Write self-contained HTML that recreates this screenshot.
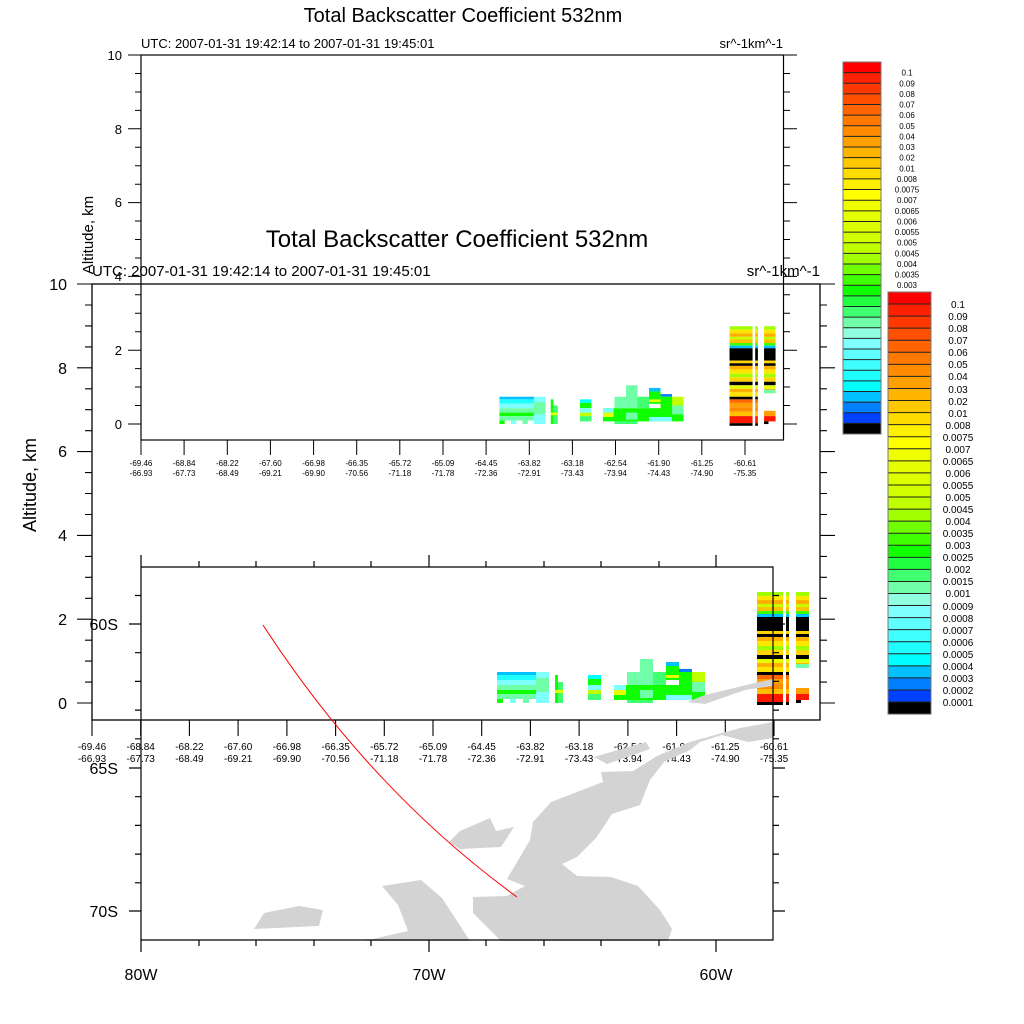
<!DOCTYPE html>
<html><head><meta charset="utf-8"><style>
html,body{margin:0;padding:0;background:#fff;width:1024px;height:1024px;overflow:hidden}
svg{display:block;font-family:"Liberation Sans",Arial,sans-serif}
</style></head><body>
<svg width="1024" height="1024" viewBox="0 0 1024 1024" xmlns="http://www.w3.org/2000/svg">
<defs>
<g id="cb">
<rect x="0" y="0" width="1" height="1" fill="#ff0000"/><rect x="0" y="1" width="1" height="1" fill="#ff2000"/><rect x="0" y="2" width="1" height="1" fill="#ff3800"/><rect x="0" y="3" width="1" height="1" fill="#ff5000"/><rect x="0" y="4" width="1" height="1" fill="#ff6400"/><rect x="0" y="5" width="1" height="1" fill="#ff7800"/><rect x="0" y="6" width="1" height="1" fill="#ff8c00"/><rect x="0" y="7" width="1" height="1" fill="#ffa000"/><rect x="0" y="8" width="1" height="1" fill="#ffb400"/><rect x="0" y="9" width="1" height="1" fill="#ffc800"/><rect x="0" y="10" width="1" height="1" fill="#ffdc00"/><rect x="0" y="11" width="1" height="1" fill="#fff000"/><rect x="0" y="12" width="1" height="1" fill="#ffff00"/><rect x="0" y="13" width="1" height="1" fill="#f0ff00"/><rect x="0" y="14" width="1" height="1" fill="#e6ff00"/><rect x="0" y="15" width="1" height="1" fill="#dcff00"/><rect x="0" y="16" width="1" height="1" fill="#d2ff00"/><rect x="0" y="17" width="1" height="1" fill="#c0ff00"/><rect x="0" y="18" width="1" height="1" fill="#a0ff00"/><rect x="0" y="19" width="1" height="1" fill="#70ff00"/><rect x="0" y="20" width="1" height="1" fill="#40ff00"/><rect x="0" y="21" width="1" height="1" fill="#10ff00"/><rect x="0" y="22" width="1" height="1" fill="#20ff40"/><rect x="0" y="23" width="1" height="1" fill="#40ff70"/><rect x="0" y="24" width="1" height="1" fill="#70ffa8"/><rect x="0" y="25" width="1" height="1" fill="#90ffe0"/><rect x="0" y="26" width="1" height="1" fill="#80ffff"/><rect x="0" y="27" width="1" height="1" fill="#60ffff"/><rect x="0" y="28" width="1" height="1" fill="#40ffff"/><rect x="0" y="29" width="1" height="1" fill="#20ffff"/><rect x="0" y="30" width="1" height="1" fill="#00ffff"/><rect x="0" y="31" width="1" height="1" fill="#00c0ff"/><rect x="0" y="32" width="1" height="1" fill="#0080ff"/><rect x="0" y="33" width="1" height="1" fill="#0040ff"/><rect x="0" y="34" width="1" height="1" fill="#000000"/>
<path d="M0 1H1M0 2H1M0 3H1M0 4H1M0 5H1M0 6H1M0 7H1M0 8H1M0 9H1M0 10H1M0 11H1M0 12H1M0 13H1M0 14H1M0 15H1M0 16H1M0 17H1M0 18H1M0 19H1M0 20H1M0 21H1M0 22H1M0 23H1M0 24H1M0 25H1M0 26H1M0 27H1M0 28H1M0 29H1M0 30H1M0 31H1M0 32H1M0 33H1M0 34H1" stroke="#222" stroke-width="1" vector-effect="non-scaling-stroke"/>
<rect x="0" y="0" width="1" height="35" fill="none" stroke="#777" stroke-width="1" vector-effect="non-scaling-stroke"/>
</g>
<g id="col">
<rect y="592" height="4" fill="#a0ff00"/><rect y="596" height="4" fill="#ffe600"/><rect y="600" height="4" fill="#ffb000"/><rect y="604" height="3" fill="#c8ff00"/><rect y="607" height="4" fill="#ffc000"/><rect y="611" height="3" fill="#40ff00"/><rect y="614" height="3" fill="#00c0ff"/><rect y="617" height="14" fill="#000"/><rect y="631" height="3" fill="#ffd400"/><rect y="634" height="3" fill="#000"/><rect y="637" height="4" fill="#ffb000"/><rect y="641" height="5" fill="#ffe600"/><rect y="646" height="4" fill="#a0ff00"/><rect y="650" height="5" fill="#ffd400"/><rect y="655" height="4" fill="#000"/><rect y="659" height="4" fill="#e6ff00"/><rect y="663" height="4" fill="#ffb000"/><rect y="667" height="5" fill="#ffe600"/><rect y="672" height="3" fill="#000"/><rect y="675" height="4" fill="#ff6a00"/><rect y="679" height="5" fill="#ff9e00"/><rect y="684" height="5" fill="#ff8c00"/><rect y="689" height="5" fill="#ffc000"/><rect y="694" height="8" fill="#ff1800"/><rect y="702" height="3" fill="#000"/>
</g>
<clipPath id="rc"><rect x="790" y="590" width="30" height="78"/></clipPath>
<g id="data">
<!-- cyan block -->
<rect x="497" y="672" width="39" height="3" fill="#00c0ff"/>
<rect x="497" y="675" width="39" height="5" fill="#20ffff"/>
<rect x="536" y="672" width="13" height="31" fill="#80ffff"/>
<rect x="536" y="678" width="13" height="14" fill="#70ffa8"/>
<rect x="497" y="680" width="39" height="5" fill="#80ffff"/>
<rect x="497" y="685" width="39" height="5" fill="#70ffa8"/>
<rect x="497" y="690" width="39" height="4" fill="#10ff00"/>
<rect x="497" y="694" width="39" height="5" fill="#70ffa8"/>
<rect x="497" y="699" width="6" height="4" fill="#10ff00"/><rect x="510" y="699" width="6" height="4" fill="#80ffff"/><rect x="523" y="699" width="6" height="4" fill="#70ffa8"/>
<rect x="555" y="675" width="3" height="28" fill="#10ff00"/><rect x="558" y="682" width="5" height="21" fill="#40ff70"/><rect x="555" y="690" width="8" height="3" fill="#e6ff00"/>
<rect x="588" y="675" width="13" height="4" fill="#00ffff"/><rect x="588" y="679" width="13" height="6" fill="#10ff00"/><rect x="588" y="685" width="13" height="5" fill="#80ffff"/><rect x="588" y="690" width="13" height="4" fill="#c0ff00"/><rect x="588" y="694" width="13" height="6" fill="#40ff70"/>
<!-- green cluster -->
<rect x="614" y="685" width="91" height="15" fill="#10ff00"/>
<rect x="614" y="685" width="12" height="5" fill="#80ffff"/><rect x="614" y="690" width="12" height="5" fill="#e6ff00"/>
<rect x="627" y="672" width="13" height="13" fill="#70ffa8"/>
<rect x="640" y="659" width="13" height="26" fill="#70ffa8"/><rect x="640" y="690" width="13" height="8" fill="#70ffa8"/>
<rect x="653" y="672" width="13" height="13" fill="#40ff70"/>
<rect x="666" y="662" width="13" height="4" fill="#00c0ff"/><rect x="666" y="666" width="13" height="14" fill="#10ff00"/><rect x="666" y="675" width="13" height="3" fill="#e6ff00"/>
<rect x="679" y="669" width="13" height="3" fill="#0080ff"/><rect x="679" y="672" width="13" height="16" fill="#10ff00"/>
<rect x="692" y="672" width="13" height="10" fill="#c0ff00"/><rect x="692" y="682" width="13" height="10" fill="#70ffa8"/>
<rect x="627" y="700" width="26" height="3" fill="#40ff70"/><rect x="666" y="695" width="26" height="5" fill="#80ffff"/>
<!-- columns -->
<use href="#col" transform="translate(757,0) scale(26,1)" width="1"/>
<use href="#col" transform="translate(786,0) scale(3,1)"/>
<g clip-path="url(#rc)"><use href="#col" transform="translate(796,0) scale(13,1)"/></g>
<rect x="796" y="664" width="13" height="4" fill="#70ffa8"/>
<rect x="796" y="688" width="13" height="6" fill="#ff9e00"/><rect x="796" y="694" width="13" height="6" fill="#ff1800"/><rect x="796" y="700" width="5" height="3" fill="#000"/>
</g>
</defs>
<style>#col rect{width:1px}</style>

<!-- ===== BACK PLOT ===== -->
<text x="463" y="22" font-size="20" text-anchor="middle">Total Backscatter Coefficient 532nm</text>
<text x="141" y="48" font-size="13">UTC: 2007-01-31 19:42:14 to 2007-01-31 19:45:01</text>
<text x="783" y="48" font-size="13" text-anchor="end">sr^-1km^-1</text>
<use href="#data" transform="matrix(0.885 0 0 0.881 59.6 -195.3)"/>
<rect x="141" y="55" width="642.5" height="385" fill="none" stroke="#000" stroke-width="1.2"/>
<g stroke="#000" stroke-width="1">
<path d="M128 55H141M128 128.8H141M128 202.6H141M128 276.4H141M128 350.2H141M128 424H141"/>
<path d="M135 73.5H141M135 92H141M135 110.4H141M135 147.3H141M135 165.7H141M135 184.2H141M135 221H141M135 239.5H141M135 258H141M135 294.8H141M135 313.3H141M135 331.7H141M135 368.6H141M135 387H141M135 405.5H141"/>
<path d="M783.5 55H797M783.5 128.8H797M783.5 202.6H797M783.5 276.4H797M783.5 350.2H797M783.5 424H797"/>
<path d="M783.5 73.5H790M783.5 92H790M783.5 110.4H790M783.5 147.3H790M783.5 165.7H790M783.5 184.2H790M783.5 221H790M783.5 239.5H790M783.5 258H790M783.5 294.8H790M783.5 313.3H790M783.5 331.7H790M783.5 368.6H790M783.5 387H790M783.5 405.5H790"/>
<path d="M141 440V455M184.1 440V455M227.3 440V455M270.4 440V455M313.6 440V455M356.7 440V455M399.8 440V455M443 440V455M486.1 440V455M529.3 440V455M572.4 440V455M615.5 440V455M658.7 440V455M701.8 440V455M745 440V455"/>
</g>
<g font-size="13" text-anchor="end">
<text x="122" y="60">10</text><text x="122" y="134">8</text><text x="122" y="207">6</text><text x="122" y="281">4</text><text x="122" y="355">2</text><text x="122" y="429">0</text>
</g>
<text transform="translate(93,235) rotate(-90)" font-size="15" text-anchor="middle">Altitude, km</text>
<g font-size="8" text-anchor="middle">
<text x="141" y="466">-69.46</text><text x="141" y="476">-66.93</text>
<text x="184.1" y="466">-68.84</text><text x="184.1" y="476">-67.73</text>
<text x="227.3" y="466">-68.22</text><text x="227.3" y="476">-68.49</text>
<text x="270.4" y="466">-67.60</text><text x="270.4" y="476">-69.21</text>
<text x="313.6" y="466">-66.98</text><text x="313.6" y="476">-69.90</text>
<text x="356.7" y="466">-66.35</text><text x="356.7" y="476">-70.56</text>
<text x="399.8" y="466">-65.72</text><text x="399.8" y="476">-71.18</text>
<text x="443" y="466">-65.09</text><text x="443" y="476">-71.78</text>
<text x="486.1" y="466">-64.45</text><text x="486.1" y="476">-72.36</text>
<text x="529.3" y="466">-63.82</text><text x="529.3" y="476">-72.91</text>
<text x="572.4" y="466">-63.18</text><text x="572.4" y="476">-73.43</text>
<text x="615.5" y="466">-62.54</text><text x="615.5" y="476">-73.94</text>
<text x="658.7" y="466">-61.90</text><text x="658.7" y="476">-74.43</text>
<text x="701.8" y="466">-61.25</text><text x="701.8" y="476">-74.90</text>
<text x="745" y="466">-60.61</text><text x="745" y="476">-75.35</text>
</g>

<!-- small colorbar -->
<use href="#cb" transform="matrix(38 0 0 10.63 843 62)"/>
<g font-size="8" text-anchor="middle">
<text x="907" y="75.6">0.1</text><text x="907" y="86.3">0.09</text><text x="907" y="96.9">0.08</text><text x="907" y="107.5">0.07</text><text x="907" y="118.2">0.06</text><text x="907" y="128.8">0.05</text><text x="907" y="139.4">0.04</text><text x="907" y="150">0.03</text><text x="907" y="160.7">0.02</text><text x="907" y="171.3">0.01</text><text x="907" y="181.9">0.008</text><text x="907" y="192.6">0.0075</text><text x="907" y="203.2">0.007</text><text x="907" y="213.8">0.0065</text><text x="907" y="224.5">0.006</text><text x="907" y="235.1">0.0055</text><text x="907" y="245.7">0.005</text><text x="907" y="256.3">0.0045</text><text x="907" y="267">0.004</text><text x="907" y="277.6">0.0035</text><text x="907" y="288.2">0.003</text><text x="907" y="298.9">0.0025</text><text x="907" y="309.5">0.002</text><text x="907" y="320.1">0.0015</text><text x="907" y="330.8">0.001</text><text x="907" y="341.4">0.0009</text><text x="907" y="352">0.0008</text><text x="907" y="362.6">0.0007</text><text x="907" y="373.3">0.0006</text><text x="907" y="383.9">0.0005</text><text x="907" y="394.5">0.0004</text><text x="907" y="405.2">0.0003</text><text x="907" y="415.8">0.0002</text><text x="907" y="426.4">0.0001</text>
</g>

<!-- ===== FRONT PLOT ===== -->
<text x="457" y="247" font-size="24" text-anchor="middle">Total Backscatter Coefficient 532nm</text>
<text x="92" y="276" font-size="15">UTC: 2007-01-31 19:42:14 to 2007-01-31 19:45:01</text>
<text x="820" y="276" font-size="15" text-anchor="end">sr^-1km^-1</text>
<use href="#data"/>
<rect x="92" y="284" width="728" height="436" fill="none" stroke="#000" stroke-width="1.3"/>
<g stroke="#000" stroke-width="1.1">
<path d="M77 284H92M77 367.8H92M77 451.6H92M77 535.4H92M77 619.2H92M77 703H92"/>
<path d="M85 305H92M85 325.9H92M85 346.9H92M85 388.8H92M85 409.7H92M85 430.7H92M85 472.6H92M85 493.5H92M85 514.5H92M85 556.4H92M85 577.3H92M85 598.3H92M85 640.2H92M85 661.1H92M85 682.1H92"/>
<path d="M820 284H835M820 367.8H835M820 451.6H835M820 535.4H835M820 619.2H835M820 703H835"/>
<path d="M820 305H827M820 325.9H827M820 346.9H827M820 388.8H827M820 409.7H827M820 430.7H827M820 472.6H827M820 493.5H827M820 514.5H827M820 556.4H827M820 577.3H827M820 598.3H827M820 640.2H827M820 661.1H827M820 682.1H827"/>
<path d="M92 720V736M140.7 720V736M189.4 720V736M238.1 720V736M286.9 720V736M335.6 720V736M384.3 720V736M433 720V736M481.7 720V736M530.4 720V736M579.1 720V736M627.9 720V736M676.6 720V736M725.3 720V736M774 720V736"/>
</g>
<g font-size="16" text-anchor="end">
<text x="67" y="290">10</text><text x="67" y="374">8</text><text x="67" y="457">6</text><text x="67" y="541">4</text><text x="67" y="625">2</text><text x="67" y="709">0</text>
</g>
<text transform="translate(36,485) rotate(-90)" font-size="18" text-anchor="middle">Altitude, km</text>
<g font-size="10" text-anchor="middle">
<text x="92" y="750">-69.46</text><text x="92" y="762">-66.93</text>
<text x="140.7" y="750">-68.84</text><text x="140.7" y="762">-67.73</text>
<text x="189.4" y="750">-68.22</text><text x="189.4" y="762">-68.49</text>
<text x="238.1" y="750">-67.60</text><text x="238.1" y="762">-69.21</text>
<text x="286.9" y="750">-66.98</text><text x="286.9" y="762">-69.90</text>
<text x="335.6" y="750">-66.35</text><text x="335.6" y="762">-70.56</text>
<text x="384.3" y="750">-65.72</text><text x="384.3" y="762">-71.18</text>
<text x="433" y="750">-65.09</text><text x="433" y="762">-71.78</text>
<text x="481.7" y="750">-64.45</text><text x="481.7" y="762">-72.36</text>
<text x="530.4" y="750">-63.82</text><text x="530.4" y="762">-72.91</text>
<text x="579.1" y="750">-63.18</text><text x="579.1" y="762">-73.43</text>
<text x="627.9" y="750">-62.54</text><text x="627.9" y="762">-73.94</text>
<text x="676.6" y="750">-61.90</text><text x="676.6" y="762">-74.43</text>
<text x="725.3" y="750">-61.25</text><text x="725.3" y="762">-74.90</text>
<text x="774" y="750">-60.61</text><text x="774" y="762">-75.35</text>
</g>

<!-- big colorbar -->
<use href="#cb" transform="matrix(43 0 0 12.06 888 292)"/>
<g font-size="10" text-anchor="middle">
<text x="958" y="308">0.1</text><text x="958" y="320">0.09</text><text x="958" y="332">0.08</text><text x="958" y="344">0.07</text><text x="958" y="356">0.06</text><text x="958" y="368">0.05</text><text x="958" y="380">0.04</text><text x="958" y="393">0.03</text><text x="958" y="405">0.02</text><text x="958" y="417">0.01</text><text x="958" y="429">0.008</text><text x="958" y="441">0.0075</text><text x="958" y="453">0.007</text><text x="958" y="465">0.0065</text><text x="958" y="477">0.006</text><text x="958" y="489">0.0055</text><text x="958" y="501">0.005</text><text x="958" y="513">0.0045</text><text x="958" y="525">0.004</text><text x="958" y="537">0.0035</text><text x="958" y="549">0.003</text><text x="958" y="561">0.0025</text><text x="958" y="573">0.002</text><text x="958" y="585">0.0015</text><text x="958" y="597">0.001</text><text x="958" y="610">0.0009</text><text x="958" y="622">0.0008</text><text x="958" y="634">0.0007</text><text x="958" y="646">0.0006</text><text x="958" y="658">0.0005</text><text x="958" y="670">0.0004</text><text x="958" y="682">0.0003</text><text x="958" y="694">0.0002</text><text x="958" y="706">0.0001</text>
</g>

<!-- ===== MAP ===== -->
<g fill="#d3d3d3">
<polygon points="773,722 773,738 748,742 722,735 700,742 690,750 664,762 650,780 640,805 612,814 596,838 577,857 562,864 577,876 611,877 638,886 660,910 672,929 668,941 501,941 473,913 473,897 507,896 525,886 507,879 520,857 530,840 533,822 551,802 603,782 601,772 633,771 657,756 690,742 740,728"/>
<polygon points="460,831 490,818 496,831 514,827 501,847 460,849 449,842"/>
<polygon points="687,702 705,695 759,682 773,679 773,686 745,690 705,704"/>
<polygon points="594,757 646,742 650,749 607,764"/>
<polygon points="382,886 421,880 442,898 470,941 364,941 408,931 398,905"/>
<polygon points="264,913 299,906 323,910 319,926 254,929"/>
</g>
<path d="M263 625 Q370 790 517 897" fill="none" stroke="#ff0000" stroke-width="1"/>
<g stroke="#000" stroke-width="1.2" fill="none">
<path d="M141 555V940H773V567H141"/>
<path d="M129 624H141M129 768H141M129 911H141M773 624H785M773 768H785M773 911H785"/>
<path d="M135 595.5H141M135 652.7H141M135 681.4H141M135 710.1H141M135 738.8H141M135 796.7H141M135 825.4H141M135 854.1H141M135 882.8H141M773 595.5H779M773 652.7H779M773 681.4H779M773 710.1H779M773 738.8H779M773 796.7H779M773 825.4H779M773 854.1H779M773 882.8H779"/>
<path d="M141 940V952M429 940V952M716 940V952M199 940V946M256 940V946M314 940V946M371 940V946M486 940V946M544 940V946M601 940V946M659 940V946"/>
<path d="M429 567V555M716 567V555M199 567V561M256 567V561M314 567V561M371 567V561M486 567V561M544 567V561M601 567V561M659 567V561"/>
</g>
<g font-size="16">
<text x="118" y="630" text-anchor="end">60S</text>
<text x="118" y="774" text-anchor="end">65S</text>
<text x="118" y="917" text-anchor="end">70S</text>
<text x="141" y="980" text-anchor="middle">80W</text>
<text x="429" y="980" text-anchor="middle">70W</text>
<text x="716" y="980" text-anchor="middle">60W</text>
</g>
</svg>
</body></html>
